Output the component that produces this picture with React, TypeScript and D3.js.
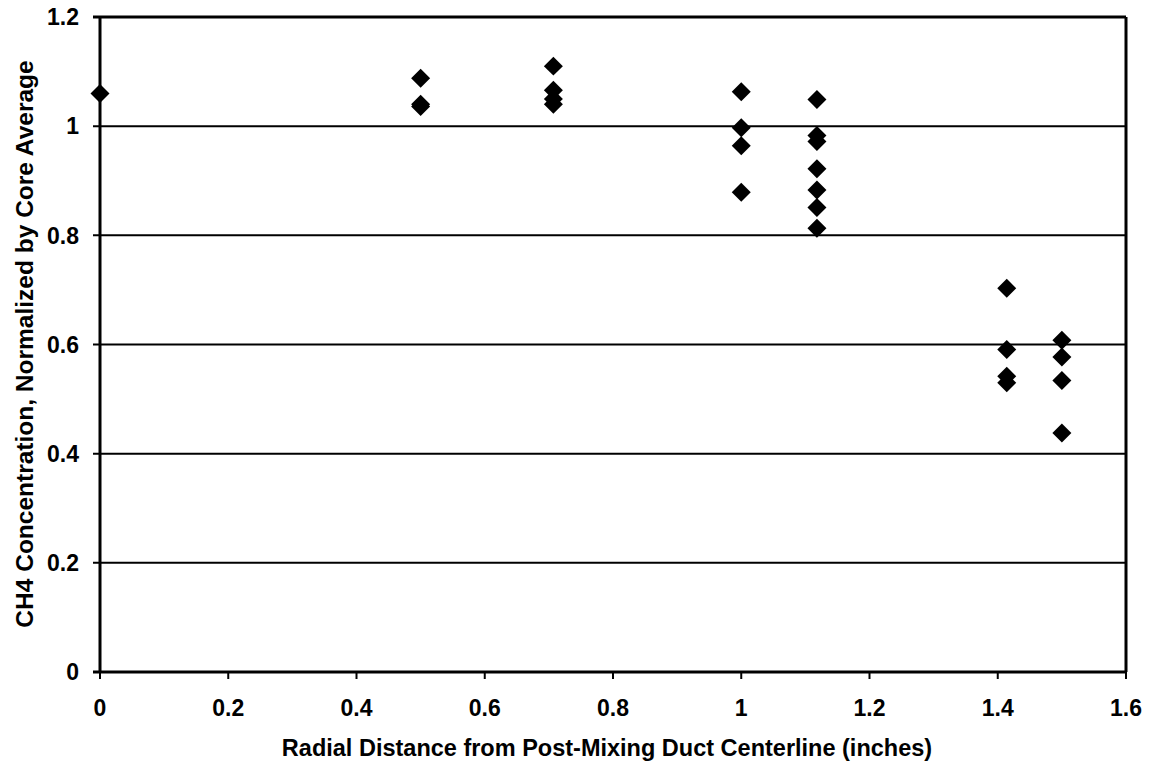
import React from "react";
import * as d3 from "d3";

const xTicks = [0, 0.2, 0.4, 0.6, 0.8, 1, 1.2, 1.4, 1.6];
const yTicks = [0, 0.2, 0.4, 0.6, 0.8, 1, 1.2];
const xPositions = [0, 0.5, 0.5, 0.5, 0.707, 0.707, 0.707, 0.707, 1.0, 1.0, 1.0, 1.0, 1.118, 1.118, 1.118, 1.118, 1.118, 1.118, 1.118, 1.414, 1.414, 1.414, 1.414, 1.5, 1.5, 1.5, 1.5];
const yValues = [1.06, 1.088, 1.04, 1.036, 1.11, 1.066, 1.05, 1.04, 1.063, 0.997, 0.964, 0.879, 1.049, 0.983, 0.972, 0.922, 0.883, 0.851, 0.813, 0.703, 0.591, 0.542, 0.53, 0.608, 0.577, 0.534, 0.438];
const xTitle = "Radial Distance from Post-Mixing Duct Centerline (inches)";
const yTitle = "CH4 Concentration, Normalized by Core Average";

export default function App() {
  const W = 1149, H = 762;
  const L = 100, R = 1126, T = 17, B = 672;
  const x = d3.scaleLinear().domain([0, 1.6]).range([L, R]);
  const y = d3.scaleLinear().domain([0, 1.2]).range([B, T]);
  const font = "'Liberation Sans', Arial, sans-serif";
  const diamond = d3.symbol().type(d3.symbolDiamond2).size(230)();
  return (
    <svg width={W} height={H} style={{ position: "absolute", left: 0, top: 0, background: "#fff" }}>
      <rect x={0} y={0} width={W} height={H} fill="#fff" />
      {yTicks.map((t) => (
        <g key={"y" + t}>
          <line x1={L - 7} x2={R} y1={y(t)} y2={y(t)} stroke="#000" strokeWidth={t === 0 || t === 1.2 ? 3 : 2} />
          <text x={L - 21} y={y(t)} dy="0.36em" textAnchor="end" fontFamily={font} fontWeight="bold" fontSize={23}>{t}</text>
        </g>
      ))}
      {xTicks.map((t) => (
        <g key={"x" + t}>
          <line x1={x(t)} x2={x(t)} y1={B} y2={B + 7} stroke="#000" strokeWidth={2} />
          <text x={x(t)} y={716} textAnchor="middle" fontFamily={font} fontWeight="bold" fontSize={23}>{t}</text>
        </g>
      ))}
      <line x1={L} x2={L} y1={T} y2={B} stroke="#000" strokeWidth={3} />
      <line x1={R} x2={R} y1={T} y2={B} stroke="#000" strokeWidth={3} />
      {xPositions.map((xv, i) => (
        <path key={i} d={diamond as string} transform={`translate(${x(xv)},${y(yValues[i])})`} fill="#000" />
      ))}
      <text x={607} y={756} textAnchor="middle" fontFamily={font} fontWeight="bold" fontSize={23.5}>{xTitle}</text>
      <text transform={`translate(33,344) rotate(-90)`} textAnchor="middle" fontFamily={font} fontWeight="bold" fontSize={24.5}>{yTitle}</text>
    </svg>
  );
}
